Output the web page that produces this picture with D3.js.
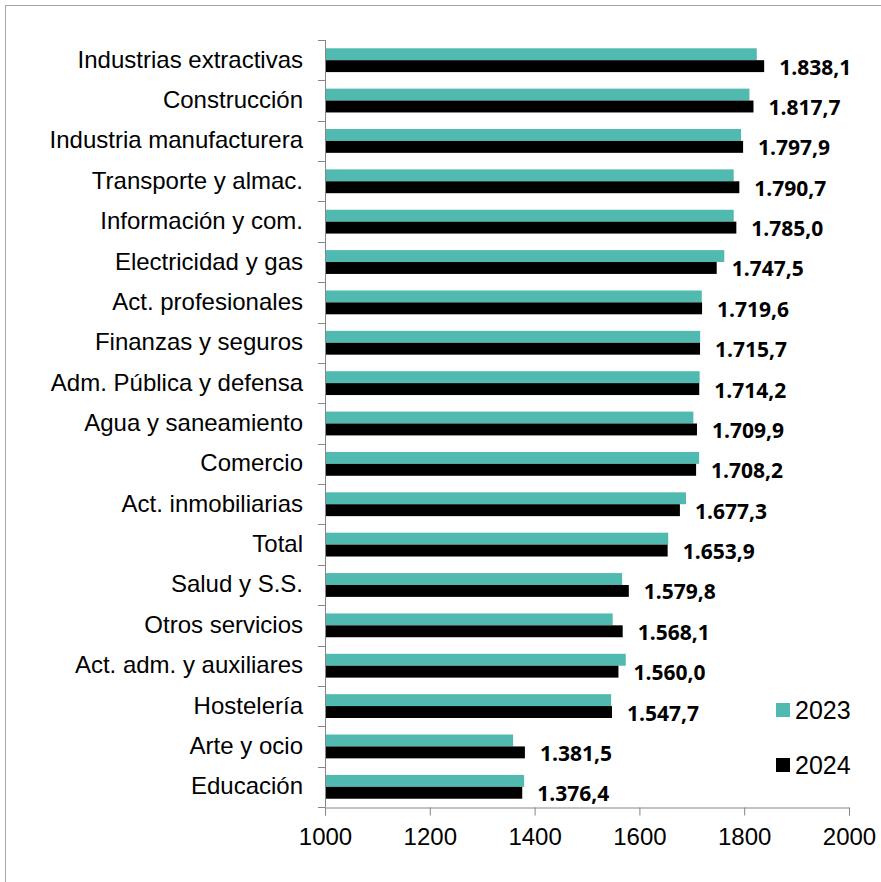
<!DOCTYPE html>
<html>
<head>
<meta charset="utf-8">
<script src="https://cdn.jsdelivr.net/npm/d3@7"></script>
<style>
  html, body { margin: 0; padding: 0; background: #fff; }
  svg { display: block; }
</style>
</head>
<body>
<div id="chart"></div>
<script>
// Sectors, top to bottom
const categories = [
  "Industrias extractivas", "Construcción", "Industria manufacturera",
  "Transporte y almac.", "Información y com.", "Electricidad y gas",
  "Act. profesionales", "Finanzas y seguros", "Adm. Pública y defensa",
  "Agua y saneamiento", "Comercio", "Act. inmobiliarias", "Total",
  "Salud y S.S.", "Otros servicios", "Act. adm. y auxiliares",
  "Hostelería", "Arte y ocio", "Educación"
];
const values2023 = [
  1824, 1810, 1794, 1780, 1780, 1762, 1719, 1716, 1715, 1703,
  1714, 1689, 1655, 1567, 1549, 1574, 1546, 1359, 1380
];
const values2024 = [
  1838.1, 1817.7, 1797.9, 1790.7, 1785.0, 1747.5, 1719.6, 1715.7, 1714.2, 1709.9,
  1708.2, 1677.3, 1653.9, 1579.8, 1568.1, 1560.0, 1547.7, 1381.5, 1376.4
];
const seriesNames = ["2023", "2024"];
const xTicks = [1000, 1200, 1400, 1600, 1800, 2000];

const W = 881, H = 882;
const colors = { "2023": "#50BAB0", "2024": "#000000" };
const axisColor = "#868686";

const svg = d3.select("#chart").append("svg")
  .attr("width", W).attr("height", H);

// outer frame
svg.append("rect")
  .attr("x", 5.5).attr("y", 5.5)
  .attr("width", W + 10).attr("height", H + 10)
  .attr("fill", "none").attr("stroke", "#a6a6a6").attr("stroke-width", 1);

const x = d3.scaleLinear().domain([1000, 2000]).range([325, 849]);
const y = d3.scaleBand().domain(categories).range([40, 807]).padding(0);
const ySeries = d3.scaleBand().domain(seriesNames)
  .range([y.bandwidth() * 0.205, y.bandwidth() * 0.795]).padding(0);

const rows = categories.map((c, i) => ({ cat: c, "2023": values2023[i], "2024": values2024[i] }));

// bars
const g = svg.append("g");
rows.forEach(r => {
  seriesNames.forEach(s => {
    g.append("rect")
      .attr("x", x(1000))
      .attr("y", y(r.cat) + ySeries(s))
      .attr("width", x(r[s]) - x(1000))
      .attr("height", ySeries.bandwidth())
      .attr("fill", colors[s]);
  });
});

// value labels for 2024
const fmt = v => {
  const s = v.toFixed(1).split(".");
  const intPart = s[0].replace(/\B(?=(\d{3})+(?!\d))/g, ".");
  return intPart + "," + s[1];
};
svg.append("g").selectAll("text").data(rows).join("text")
  .attr("x", d => x(d["2024"]) + 15)
  .attr("y", d => y(d.cat) + ySeries("2024") + ySeries.bandwidth() / 2 + 0.5)
  .attr("dominant-baseline", "central")
  .attr("font-family", "'Open Sans', sans-serif")
  .attr("font-weight", 700)
  .attr("font-size", 21)
  .attr("fill", "#000")
  .text(d => fmt(d["2024"]));

// left axis
const yAxis = svg.append("g");
yAxis.append("line")
  .attr("x1", 325.5).attr("x2", 325.5).attr("y1", 40).attr("y2", 807)
  .attr("stroke", axisColor);
const bounds = categories.map(c => y(c)).concat([807]);
yAxis.selectAll("line.tick").data(bounds).join("line")
  .attr("class", "tick")
  .attr("x1", 318).attr("x2", 325.5)
  .attr("y1", d => Math.round(d) + 0.5).attr("y2", d => Math.round(d) + 0.5)
  .attr("stroke", axisColor);
yAxis.selectAll("text").data(categories).join("text")
  .attr("x", 303)
  .attr("y", d => y(d) + y.bandwidth() / 2 - 1)
  .attr("dominant-baseline", "central")
  .attr("text-anchor", "end")
  .attr("font-family", "'Liberation Sans', Arial, sans-serif")
  .attr("font-size", 24)
  .attr("fill", "#000")
  .text(d => d);

// bottom axis
const xAxis = svg.append("g").attr("transform", "translate(0,807.5)")
  .call(d3.axisBottom(x).tickValues(xTicks).tickSize(8).tickPadding(12).tickFormat(d3.format("d")));
xAxis.select(".domain").attr("stroke", axisColor);
xAxis.selectAll(".tick line").attr("stroke", axisColor);
xAxis.selectAll(".tick text")
  .attr("font-family", "'Liberation Sans', Arial, sans-serif")
  .attr("font-size", 24)
  .attr("fill", "#000");

// legend
const legend = svg.append("g");
const legendY = { "2023": 710, "2024": 765 };
seriesNames.forEach(s => {
  legend.append("rect")
    .attr("x", 776).attr("y", legendY[s] - 7)
    .attr("width", 14).attr("height", 14)
    .attr("fill", colors[s]);
  legend.append("text")
    .attr("x", 795).attr("y", legendY[s])
    .attr("dominant-baseline", "central")
    .attr("font-family", "'Liberation Sans', Arial, sans-serif")
    .attr("font-size", 25)
    .attr("fill", "#000")
    .text(s);
});
</script>
</body>
</html>
